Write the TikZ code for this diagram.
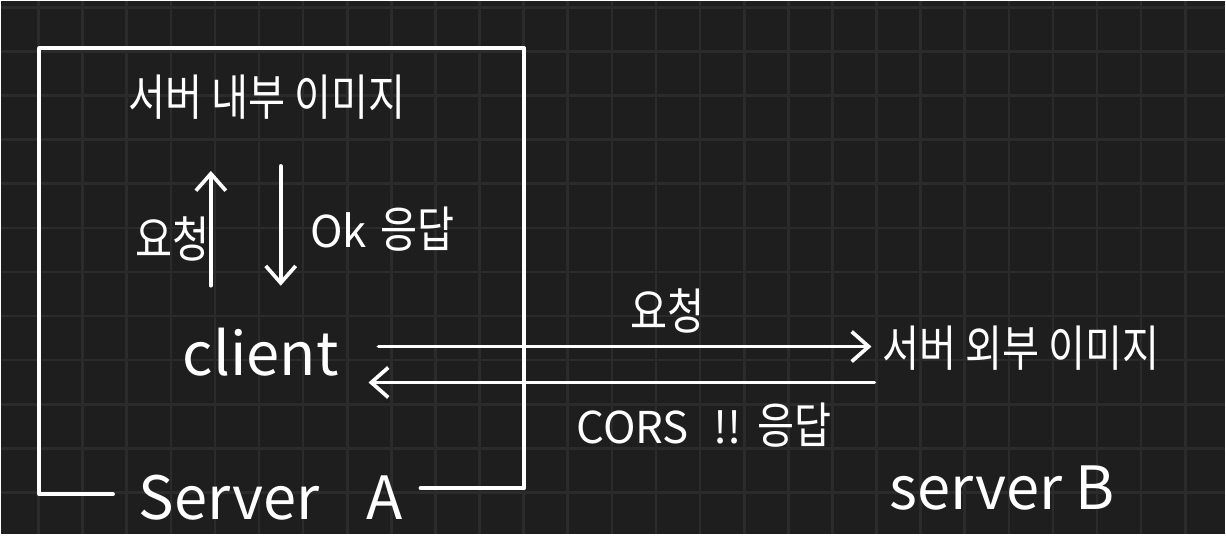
\documentclass[tikz,border=0pt]{standalone}
\usepackage{fontspec}
\setmainfont{Noto Sans CJK KR}
\newfontfamily\kofont[FakeStretch=0.82]{Noto Sans CJK KR}
\usetikzlibrary{arrows.meta,calc}
\definecolor{BoardBg}{HTML}{1E1E1E}
\definecolor{BoardGrid}{HTML}{2B2B2B}
\newcommand{\kosize}{\kofont\fontsize{28}{30}\selectfont}
\newcommand{\ensize}{\fontsize{34}{38}\selectfont}
\newcommand{\smsize}{\fontsize{25}{28}\selectfont}
\tikzset{
  ink/.style={white, line width=2.1pt, line cap=round, line join=round},
  arr/.style={ink, -{Straight Barb[length=0.34cm,width=0.6cm]}},
  kor/.style={white, font=\kosize, inner sep=0pt},
  eng/.style={white, font=\ensize, inner sep=0pt},
  gridline/.style={BoardGrid, line width=1.5pt},
}
\begin{document}
\begin{tikzpicture}[x=0.02cm, y=-0.02cm]
  % board and grid
  \fill[BoardBg] (0,0) rectangle (1226,534);
  \foreach \k in {0,...,26}
    \draw[gridline] ({37.3+44.2*\k},0) -- ({37.3+44.2*\k},534);
  \foreach \k in {0,...,11}
    \draw[gridline] (0,{6+44.2*\k}) -- (1226,{6+44.2*\k});

  % server A frame
  \draw[ink] (112,494) -- (38,494) -- (38,47) -- (524,47) -- (524,488) -- (420,488);

  % texts
  \node[kor] (inner) at (266,96) {서버 내부 이미지};
  \node[eng] (client) at (260,352) {client};
  \node[kor] (outer) at (1022,348) {서버 외부 이미지};
  \node[kor] (reqA) at (172,238) {요청};
  \node[eng] (okres) at (382,228) {{\smsize Ok} \kosize 응답};
  \node[kor] (reqB) at (668,310) {요청};
  \node[eng] (corsres) at (704,425) {{\smsize CORS\hspace{0.5cm}!!}\hspace{0.3cm}\kosize 응답};
  \node[eng] (srvA) at (270,497) {Server\hspace{0.95cm}A};
  \node[eng] (srvB) at (1003,488) {server B};

  % inside server A
  \draw[arr] ($(client.center)+(-50,-67)$) -- ($(inner.center)+(-56,74)$);
  \draw[arr] ($(inner.center)+(14,69)$) -- ($(client.center)+(20,-67)$);

  % to server B and back
  \draw[arr] ($(client.center)+(118,-6)$) -- ($(outer.center)+(-150,-2)$);
  \draw[arr] ($(outer.center)+(-147,34)$) -- ($(client.center)+(108,30)$);
\end{tikzpicture}
\end{document}
